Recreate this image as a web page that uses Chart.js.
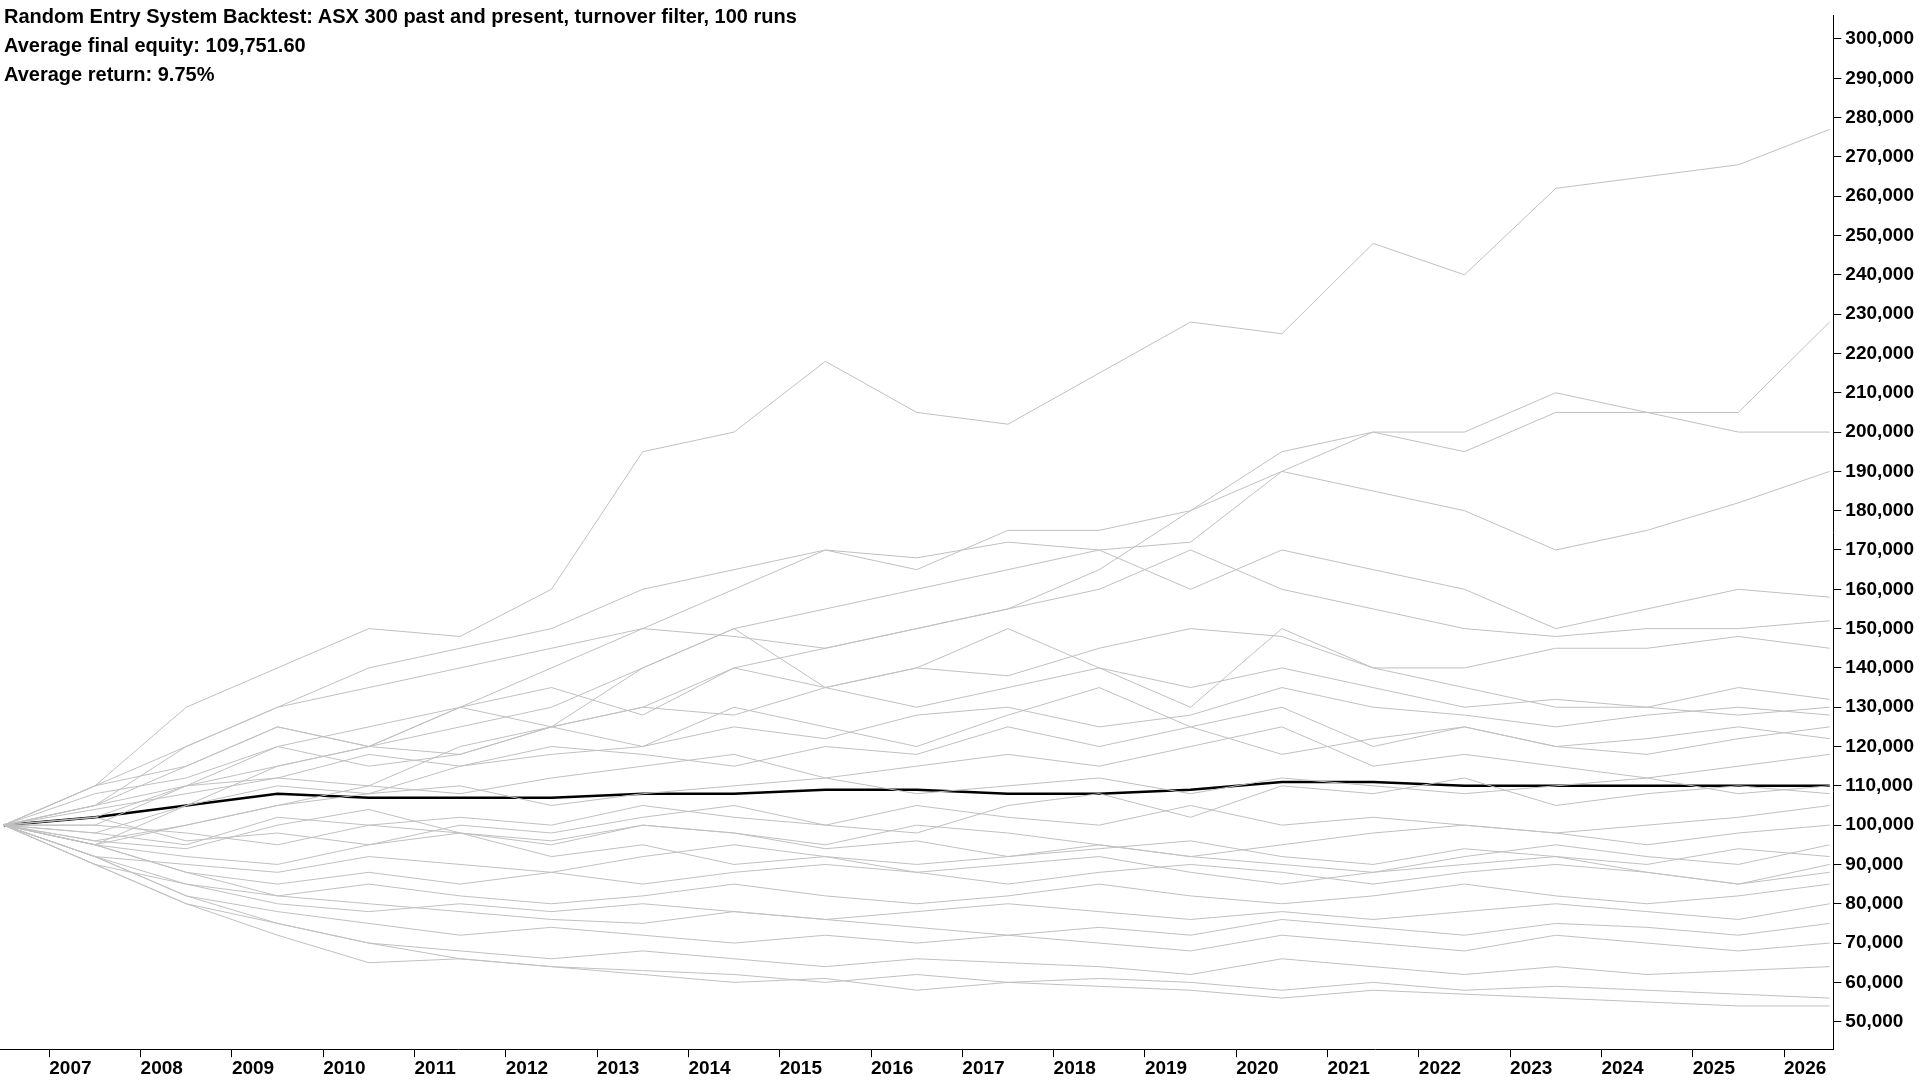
<!DOCTYPE html>
<html><head><meta charset="utf-8">
<script src="https://cdn.jsdelivr.net/npm/chart.js@4"></script>
<style>
html,body{margin:0;padding:0;background:#fff;}
#wrap{position:relative;width:1920px;height:1080px;}
#title{position:absolute;left:4px;top:2px;font:bold 20px "Liberation Sans",Arial,sans-serif;line-height:29px;color:#000;}
</style></head>
<body><div id="wrap"><canvas id="c" width="1920" height="1080"></canvas>
<div id="title">Random Entry System Backtest: ASX 300 past and present, turnover filter, 100 runs<br>Average final equity: 109,751.60<br>Average return: 9.75%</div></div>
<script>
const years=[2006.5,2007.5,2008.5,2009.5,2010.5,2011.5,2012.5,2013.5,2014.5,2015.5,2016.5,2017.5,2018.5,2019.5,2020.5,2021.5,2022.5,2023.5,2024.5,2025.5,2026.5];
const tickYears=[2007,2008,2009,2010,2011,2012,2013,2014,2015,2016,2017,2018,2019,2020,2021,2022,2023,2024,2025,2026];
const yTicks=[50000,60000,70000,80000,90000,100000,110000,120000,130000,140000,150000,160000,170000,180000,190000,200000,210000,220000,230000,240000,250000,260000,270000,280000,290000,300000];
const runs=[
[100,110,130,140,150,148,160,195,200,218,205,202,215,228,225,248,240,262,265,268,277],
[100,95,105,115,120,125,130,140,150,155,160,165,170,172,190,200,195,205,205,205,228],
[100,105,110,120,125,130,140,150,160,170,165,175,175,180,195,200,200,210,205,200,200],
[100,100,110,115,120,118,125,130,140,145,150,155,165,180,190,185,180,170,175,182,190],
[100,110,120,130,140,145,150,160,165,170,168,172,170,160,170,165,160,150,155,160,158],
[100,105,120,130,135,140,145,150,148,145,150,155,160,170,160,155,150,148,150,150,152],
[100,95,100,105,110,120,125,130,128,135,140,138,145,150,148,140,140,145,145,148,145],
[100,110,115,125,120,130,135,128,140,135,130,135,140,135,140,135,130,132,130,135,132],
[100,98,105,110,108,115,118,120,125,122,128,130,125,128,135,130,128,125,128,130,128],
[100,102,110,112,118,115,120,118,115,120,118,125,120,125,118,122,125,120,122,125,122],
[100,104,108,112,110,108,112,115,118,112,115,118,115,120,125,115,118,115,112,115,118],
[100,96,100,105,108,110,105,108,110,112,108,110,112,108,112,110,108,110,112,108,110],
[100,100,98,95,100,102,100,105,102,100,105,102,100,105,100,102,100,98,100,102,105],
[100,95,92,90,95,98,95,100,98,95,100,98,95,92,95,98,100,98,95,98,100],
[100,92,90,88,92,90,88,92,95,92,90,92,95,92,90,88,92,95,92,90,95],
[100,95,88,85,88,85,88,85,88,90,88,85,88,90,88,85,88,90,88,85,90],
[100,90,85,82,85,82,80,82,85,82,80,82,85,82,80,82,85,82,80,82,85],
[100,92,85,80,78,80,78,80,78,76,78,80,78,76,78,76,78,80,78,76,80],
[100,95,88,82,80,78,76,75,78,76,74,72,74,72,76,74,72,75,74,72,75],
[100,92,82,78,75,72,74,72,70,72,70,72,70,68,72,70,68,72,70,68,70],
[100,90,80,75,70,68,66,68,66,64,66,65,64,62,66,64,62,64,62,63,64],
[100,90,80,72,65,66,64,63,62,60,62,60,61,60,58,60,58,59,58,57,56],
[100,92,82,75,70,66,64,62,60,61,58,60,59,58,56,58,57,56,55,54,54],
[100,105,115,125,120,130,125,140,150,135,140,150,140,130,150,140,135,130,130,128,130],
[100,108,112,120,115,118,125,120,130,125,120,128,135,125,130,120,125,120,118,122,125],
[100,98,95,102,100,98,92,95,90,92,88,90,92,88,85,88,90,92,88,85,88],
[100,102,96,98,95,100,98,102,105,100,98,105,108,102,110,108,112,105,108,110,108],
[100,96,94,100,104,98,96,100,98,94,96,92,94,96,92,90,94,92,90,94,92]
];
const average=[100,102,105,108,107,107,107,108,108,109,109,108,108,109,111,111,110,110,110,110,110];
const pts=a=>a.map((v,i)=>({x:years[i],y:v*1000}));
const datasets=runs.map(r=>({data:pts(r),borderColor:'#c0c0c0',borderWidth:1,pointRadius:0,tension:0}));
datasets.push({data:pts(average),borderColor:'#000',borderWidth:2.5,pointRadius:0,tension:0});
const font={family:'"Liberation Sans", Arial, sans-serif',size:19,weight:'bold'};
new Chart(document.getElementById('c'),{type:'line',data:{datasets},
options:{responsive:false,animation:false,layout:{padding:{top:0,right:2,left:0,bottom:0}},
plugins:{legend:{display:false},tooltip:{enabled:false}},
scales:{
x:{type:'linear',min:2006.46,max:2026.54,afterBuildTicks:s=>{s.ticks=tickYears.map(v=>({value:v}));},
 ticks:{color:'#000',font,align:'start',maxRotation:0,autoSkip:false,callback:v=>String(v),padding:0},
 grid:{drawOnChartArea:false,color:'#000',tickLength:8},border:{color:'#000'}},
y:{position:'right',min:43000,max:306000,afterBuildTicks:s=>{s.ticks=yTicks.map(v=>({value:v}));},
 ticks:{color:'#000',font,autoSkip:false,padding:4,callback:v=>v.toLocaleString('en-US')},
 grid:{drawOnChartArea:false,color:'#000',tickLength:8},border:{color:'#000'}}
}}});
</script></body></html>
